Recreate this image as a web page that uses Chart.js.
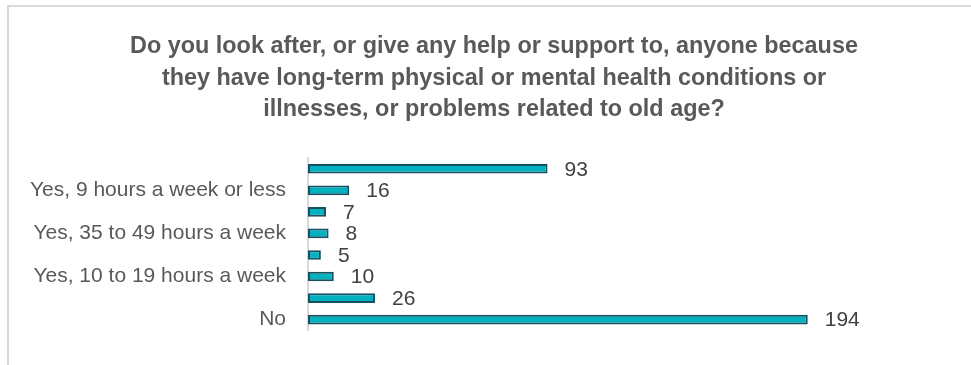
<!DOCTYPE html>
<html>
<head>
<meta charset="utf-8">
<script src="https://cdn.jsdelivr.net/npm/chart.js@4/dist/chart.umd.min.js"></script>
<style>
  html, body { margin: 0; padding: 0; background: #fff; overflow: hidden; }
  #frame { position: absolute; left: 7px; top: 5px; width: 1000px; height: 400px; border: 2px solid #d9d9d9; }
  #carers { position: absolute; left: 0; top: 0; }
</style>
</head>
<body>
<div id="frame"></div>
<canvas id="carers" width="971" height="365"></canvas>
<script>
    // Réponses au questionnaire (une étiquette sur deux affichée, comme sur l'original)
    var categories = ['', 'Yes, 9 hours a week or less', '', 'Yes, 35 to 49 hours a week', '', 'Yes, 10 to 19 hours a week', '', 'No'];
    var reponses = [93, 16, 7, 8, 5, 10, 26, 194];
    var titre = [
        'Do you look after, or give any help or support to, anyone because',
        'they have long-term physical or mental health conditions or',
        'illnesses, or problems related to old age?'
    ];

    // Titre centré sur le cadre complet (le cadre dépasse à droite du canvas)
    var titreCadre = {
        id: 'titreCadre',
        afterDraw: function(chart) {
            var c = chart.ctx;
            c.save();
            c.font = 'bold 23.4px "Liberation Sans", Arial, sans-serif';
            c.fillStyle = '#595959';
            c.textAlign = 'center';
            c.textBaseline = 'alphabetic';
            titre.forEach(function(ligne, i) {
                c.fillText(ligne, 494, 53 + i * 31.7);
            });
            c.restore();
        }
    };

    // Valeur écrite à droite de chaque barre
    var etiquettesValeurs = {
        id: 'etiquettesValeurs',
        afterDatasetsDraw: function(chart) {
            var c = chart.ctx;
            var meta = chart.getDatasetMeta(0);
            c.save();
            c.font = '21px "Liberation Sans", Arial, sans-serif';
            c.fillStyle = '#404040';
            c.textAlign = 'left';
            c.textBaseline = 'middle';
            meta.data.forEach(function(bar, i) {
                c.fillText(reponses[i], bar.x + 17, bar.y + 1);
            });
            c.restore();
        }
    };

    var ctx = document.getElementById('carers').getContext('2d');
    var chart = new Chart(ctx, {
    type: 'bar',
    data: {
    labels: categories,
    datasets: [{
    data: reponses,
    backgroundColor: '#00b1bf',
    borderColor: '#1a4f5f',
    borderWidth: 2,
    borderSkipped: false,
    barPercentage: 0.45,
    categoryPercentage: 1
}]
},
    options: {
    indexAxis: 'y',
    responsive: false,
    animation: false,
    layout: {
    padding: { top: 158, right: 19, bottom: 28, left: 0 }
},
    plugins: {
    legend: { display: false },
    tooltip: { enabled: false },
    title: { display: false }
},
    scales: {
    x: {
    display: false,
    min: 0,
    max: 250
},
    y: {
    grid: { display: false, drawTicks: false },
    border: { display: true, color: '#d9d9d9', width: 2 },
    ticks: {
    autoSkip: false,
    color: '#595959',
    padding: 22,
    font: { family: '"Liberation Sans", Arial, sans-serif', size: 21 }
},
    afterFit: function(scale) {
    // l'axe vertical tombe à x = 308
    scale.width = 308;
}
}
}
},
    plugins: [titreCadre, etiquettesValeurs]
});
</script>
</body>
</html>
